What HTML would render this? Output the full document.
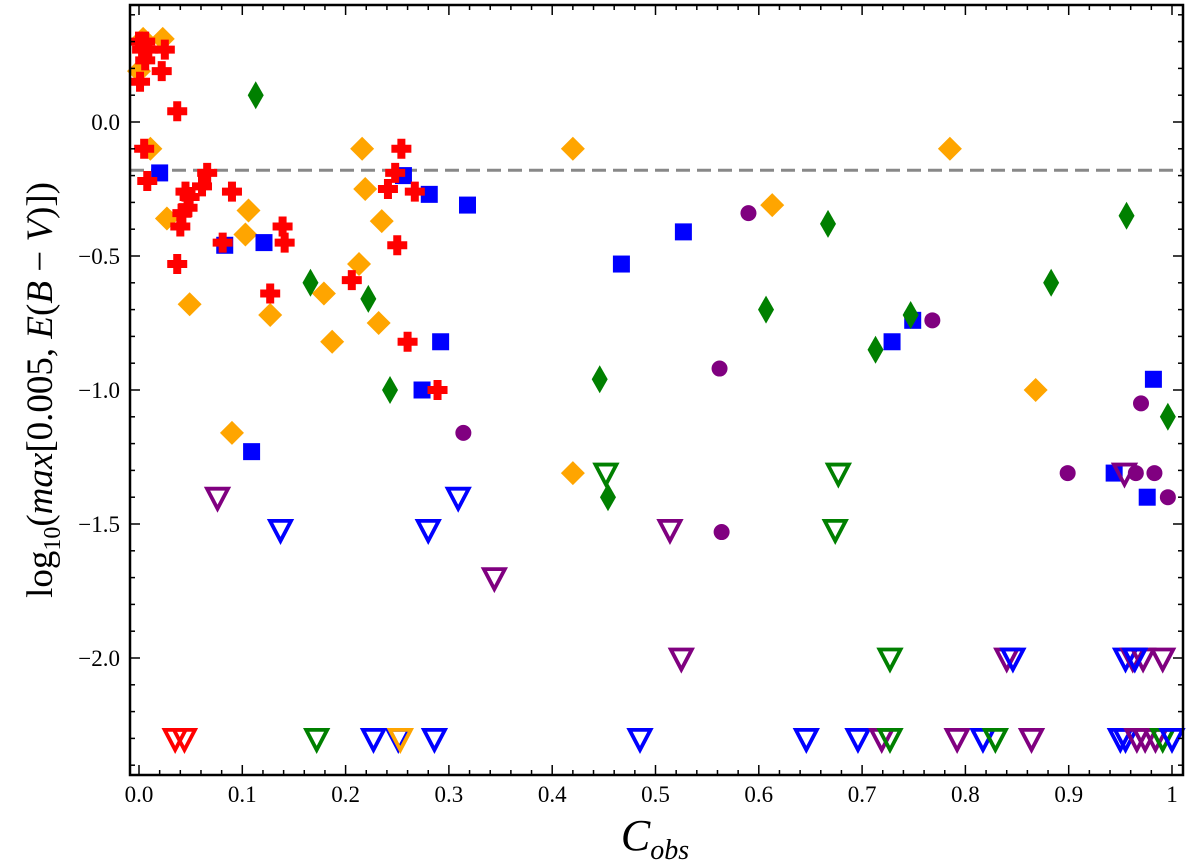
<!DOCTYPE html>
<html><head><meta charset="utf-8"><style>
html,body{margin:0;padding:0;background:#fff;}
svg{display:block;font-family:"Liberation Serif","DejaVu Serif",serif;}
</style></head><body>
<svg id="chart" width="1200" height="860" viewBox="0 0 1200 860">
<rect x="0" y="0" width="1200" height="860" fill="#fff"/>
<g id="marks"></g>
<g id="axes"></g>
<text x="655" y="850" text-anchor="middle" font-size="44" font-style="italic">C<tspan font-size="28" dy="9">obs</tspan></text>
<text transform="translate(52,390) rotate(-90)" text-anchor="middle" font-size="37">log<tspan font-size="24" dy="8">10</tspan><tspan dy="-8">(</tspan><tspan font-style="italic">max</tspan>[0.005, <tspan font-style="italic">E</tspan>(<tspan font-style="italic">B</tspan> − <tspan font-style="italic">V</tspan>)])</text>
</svg>
<script>
// ---- data ----
const redX = [0.0,0.006,0.003,0.009,0.006,0.025,0.022,0.001,0.037,0.005,0.008,0.045,0.049,0.061,0.066,0.047,0.042,0.040,0.037,0.090,0.081,0.139,0.141,0.127,0.206,0.254,0.248,0.241,0.267,0.250,0.260,0.289];
const redY = [0.30,0.30,0.27,0.27,0.23,0.27,0.19,0.15,0.04,-0.10,-0.22,-0.26,-0.28,-0.24,-0.19,-0.32,-0.34,-0.39,-0.53,-0.26,-0.45,-0.39,-0.45,-0.64,-0.59,-0.10,-0.19,-0.25,-0.26,-0.46,-0.82,-1.00];
const orangeX = [0.004,0.023,0.0,0.011,0.027,0.049,0.106,0.103,0.127,0.216,0.219,0.235,0.213,0.179,0.187,0.232,0.090,0.420,0.613,0.785,0.868,0.420];
const orangeY = [0.31,0.31,0.19,-0.10,-0.36,-0.68,-0.33,-0.42,-0.72,-0.10,-0.25,-0.37,-0.53,-0.64,-0.82,-0.75,-1.16,-0.10,-0.31,-0.10,-1.00,-1.31];
const blueX = [0.020,0.083,0.121,0.256,0.281,0.292,0.274,0.109,0.318,0.467,0.527,0.729,0.749,0.944,0.976,0.982];
const blueY = [-0.19,-0.46,-0.45,-0.20,-0.27,-0.82,-1.00,-1.23,-0.31,-0.53,-0.41,-0.82,-0.74,-1.31,-1.40,-0.96];
const greenX = [0.113,0.166,0.222,0.243,0.446,0.454,0.607,0.667,0.713,0.747,0.883,0.956,0.996];
const greenY = [0.10,-0.60,-0.66,-1.00,-0.96,-1.40,-0.70,-0.38,-0.85,-0.72,-0.60,-0.35,-1.10];
const purpleX = [0.314,0.562,0.590,0.564,0.768,0.899,0.965,0.983,0.996,0.970];
const purpleY = [-1.16,-0.92,-0.34,-1.53,-0.74,-1.31,-1.31,-1.31,-1.40,-1.05];
// upper-limit triangles
const triX = [0.076,0.137,0.280,0.309,0.344,0.452,0.514,0.525,0.677,0.674,0.727,0.840,0.846,0.954,0.955,0.962,0.972,0.991,0.964,
  0.035,0.044,0.172,0.227,0.251,0.253,0.286,0.485,0.646,0.696,0.719,0.727,0.792,0.817,0.829,0.864,0.950,0.955,0.966,0.974,0.984,0.991,1.000];
const triY = [-1.40,-1.52,-1.52,-1.40,-1.70,-1.31,-1.52,-2.0,-1.31,-1.52,-2.0,-2.0,-2.0,-1.31,-2.0,-2.0,-2.0,-2.0,-2.0,
  -2.3,-2.3,-2.3,-2.3,-2.3,-2.3,-2.3,-2.3,-2.3,-2.3,-2.3,-2.3,-2.3,-2.3,-2.3,-2.3,-2.3,-2.3,-2.3,-2.3,-2.3,-2.3,-2.3];
const triC = ["purple","blue","blue","blue","purple","green","purple","purple","green","green","green","purple","blue","purple","blue","purple","purple","purple","blue",
  "red","red","green","blue","blue","orange","blue","blue","blue","blue","purple","green","purple","blue","green","purple","blue","blue","purple","purple","purple","green","blue"];
const xTicks = [0,0.1,0.2,0.3,0.4,0.5,0.6,0.7,0.8,0.9,1];
const xTickLabels = ["0.0","0.1","0.2","0.3","0.4","0.5","0.6","0.7","0.8","0.9","1"];
const yTicks = [0,-0.5,-1,-1.5,-2];
const yTickLabels = ["0.0","−0.5","−1.0","−1.5","−2.0"];
const refLine = -0.18;

// ---- axes ----
const L=130,R=1183,T=5,B=775;
const sx = v => 139 + v*1033;
const sy = v => 122 - v*268;
const NS="http://www.w3.org/2000/svg";
const marks=document.getElementById('marks'), axes=document.getElementById('axes');
function mk(tag, attrs, parent){const e=document.createElementNS(NS,tag);for(const k in attrs)e.setAttribute(k,attrs[k]);parent.appendChild(e);return e;}
const col={red:"#ff0000",orange:"#ffa500",blue:"#0000ff",green:"#008000",purple:"#800080"};

let e;
e=mk('line',{x1:L,x2:R,y1:sy(refLine),y2:sy(refLine),stroke:"#888",'stroke-width':3,'stroke-dasharray':"14,7"},marks);



for(let i=0;i<orangeX.length;i++){const x=sx(orangeX[i]),y=sy(orangeY[i]);
 e=mk('polygon',{points:`${x},${y-12} ${x+12},${y} ${x},${y+12} ${x-12},${y}`,fill:col.orange},marks);
 
 }
for(let i=0;i<blueX.length;i++){const x=sx(blueX[i]),y=sy(blueY[i]);
 e=mk('rect',{x:x-8.5,y:y-8.5,width:17,height:17,fill:col.blue},marks);
 
 }
for(let i=0;i<greenX.length;i++){const x=sx(greenX[i]),y=sy(greenY[i]);
 e=mk('polygon',{points:`${x},${y-14} ${x+8},${y} ${x},${y+14} ${x-8},${y}`,fill:col.green},marks);
 
 }
for(let i=0;i<purpleX.length;i++){
 e=mk('circle',{cx:sx(purpleX[i]),cy:sy(purpleY[i]),r:8,fill:col.purple},marks);
 
 }
for(let i=0;i<redX.length;i++){const x=sx(redX[i]),y=sy(redY[i]);
 e=mk('path',{d:`M${x-4},${y-10}h8v6h6v8h-6v6h-8v-6h-6v-8h6z`,fill:col.red},marks);
 
 }
for(let i=0;i<triX.length;i++){const x=sx(triX[i]),y=sy(triY[i]);
 e=mk('polygon',{points:`${x-10.5},${y-8.5} ${x+10.5},${y-8.5} ${x},${y+11.5}`,fill:"none",stroke:col[triC[i]],'stroke-width':3.8},marks);
 
 }

// frame
e=mk('rect',{x:L,y:T,width:R-L,height:B-T,fill:"none",stroke:"#000",'stroke-width':2.5},axes);


for(let v=0;v<=1.0001;v+=0.02){const x=sx(v);const maj=Math.abs(v*10-Math.round(v*10))<1e-6;const len=maj?10:5;
 mk('line',{x1:x,x2:x,y1:B,y2:B-len,stroke:"#000",'stroke-width':1.5},axes);
 mk('line',{x1:x,x2:x,y1:T,y2:T+len,stroke:"#000",'stroke-width':1.5},axes);}
for(let i=0;i<xTicks.length;i++){
 e=mk('text',{x:sx(xTicks[i]),y:B+27,'text-anchor':"middle",'font-size':23},axes);e.textContent=xTickLabels[i];
 
 }
for(let k=-24;k<=4;k++){const v=k/10;const y=sy(v);if(y<T||y>B)continue;const maj=(k%5===0);const len=maj?10:5;
 mk('line',{x1:L,x2:L+len,y1:y,y2:y,stroke:"#000",'stroke-width':1.5},axes);
 mk('line',{x1:R,x2:R-len,y1:y,y2:y,stroke:"#000",'stroke-width':1.5},axes);}
for(let i=0;i<yTicks.length;i++){
 e=mk('text',{x:L-10,y:sy(yTicks[i])+8,'text-anchor':"end",'font-size':23},axes);e.textContent=yTickLabels[i];
 
 }
</script>
</body></html>
